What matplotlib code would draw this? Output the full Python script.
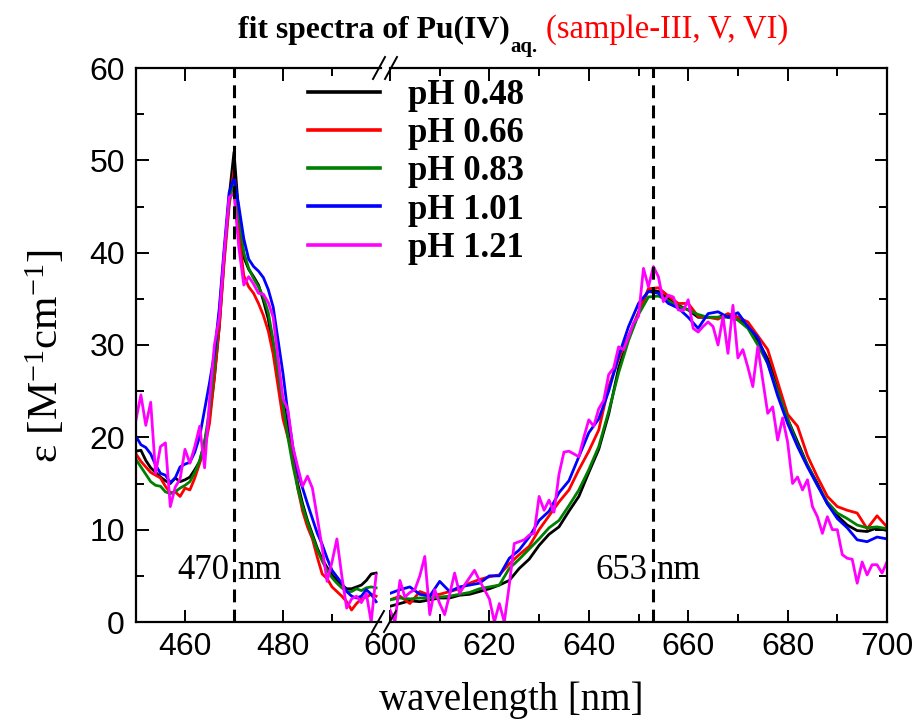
import matplotlib
matplotlib.use('Agg')
import matplotlib.pyplot as plt
from matplotlib.ticker import FixedLocator, MultipleLocator

plt.rcParams['font.family'] = ['Liberation Sans Narrow', 'Liberation Sans']
plt.rcParams['mathtext.fontset'] = 'custom'
plt.rcParams['mathtext.rm'] = 'Liberation Serif'
plt.rcParams['mathtext.it'] = 'Liberation Serif:italic'
plt.rcParams['mathtext.bf'] = 'Liberation Serif:bold'
SERIF = 'Liberation Serif'

# ---------------- data ----------------
wl_left = list(range(450, 500))          # 1 nm step
wl_right = list(range(600, 701, 2))      # 2 nm step
wl_right_fine = list(range(600, 701))    # 1 nm step

labels = ['pH 0.48', 'pH 0.66', 'pH 0.83', 'pH 1.01', 'pH 1.21']
colors = ['#000000', '#FF0000', '#008000', '#0000FF', '#FF00FF']

ph048_left = [18.5, 18.6, 17.5, 16.7, 16.2, 15.7, 15.3, 15.0, 15.6, 15.2,
              15.4, 15.7, 16.5, 17.4, 19.5, 22.2, 26.5, 32.0, 39.5, 46.0,
              50.9, 44.0, 39.5, 38.2, 37.4, 36.5, 34.8, 32.8, 29.5, 26.0,
              24.0, 21.0, 18.0, 15.0, 12.8, 11.0, 9.5, 8.0, 6.8, 5.9,
              5.1, 4.5, 4.0, 3.6, 3.6, 3.8, 4.0, 4.5, 5.2, 5.3]
ph066_left = [18.2, 17.4, 16.8, 16.2, 15.9, 15.6, 14.7, 14.0, 14.1, 13.6,
              14.5, 14.3, 15.6, 17.2, 18.8, 21.5, 26.5, 32.0, 39.0, 45.0,
              49.0, 42.0, 37.5, 36.3, 35.6, 34.5, 33.2, 31.5, 29.0, 25.5,
              22.0, 20.0, 18.3, 14.5, 12.0, 10.3, 9.0, 7.0, 5.2, 4.7,
              3.8, 3.3, 2.8, 2.2, 1.3, 2.0, 2.5, 2.7, 3.0, 2.8]
ph083_left = [17.6, 16.8, 16.0, 15.2, 14.8, 14.7, 14.1, 13.9, 14.1, 14.5,
              14.8, 15.2, 16.2, 17.5, 19.5, 23.0, 28.0, 33.5, 40.0, 45.5,
              47.8, 44.0, 40.0, 38.3, 37.2, 36.3, 35.2, 33.5, 30.5, 27.0,
              23.5, 20.0, 17.0, 14.5, 12.5, 10.8, 9.3, 7.8, 6.6, 5.6,
              4.8, 4.2, 3.7, 3.3, 3.3, 3.6, 3.4, 3.7, 3.8, 3.7]
ph101_left = [20.1, 19.2, 18.9, 18.2, 17.0, 16.1, 15.9, 15.1, 15.6, 16.8,
              17.1, 17.3, 18.4, 20.1, 23.0, 25.9, 29.1, 34.0, 40.5, 46.5,
              48.1, 45.0, 41.5, 39.3, 38.5, 38.0, 37.3, 36.0, 34.1, 30.5,
              26.9, 22.6, 19.0, 16.2, 14.5, 12.8, 11.2, 9.6, 8.4, 6.9,
              5.6, 4.9, 4.2, 3.3, 2.8, 2.6, 2.8, 3.5, 3.0, 2.2]
ph121_left = [21.9, 24.6, 21.3, 23.8, 16.1, 19.0, 19.4, 12.5, 14.6, 15.5,
              18.7, 17.2, 19.0, 21.2, 16.7, 24.0, 30.0, 33.0, 40.0, 46.0,
              46.4, 40.5, 36.5, 37.4, 36.6, 35.6, 35.5, 34.6, 33.0, 28.5,
              24.2, 23.0, 19.0, 16.8, 14.7, 15.8, 14.5, 11.3, 8.0, 4.4,
              6.5, 9.0, 5.0, 1.5, 2.5, 2.8, 2.1, 3.1, 0.0, 5.1]

ph048_right = [1.7, 2.0, 2.3, 2.2, 2.4, 2.6, 2.6, 2.9, 3.0, 3.3,
               3.6, 4.0, 4.5, 5.8, 6.8, 8.3, 9.5, 10.3, 12.0, 13.6,
               16.2, 18.7, 22.5, 27.5, 30.8, 33.5, 36.0, 35.8, 35.0, 34.3,
               33.8, 33.0, 33.0, 33.0, 33.3, 33.0, 32.0, 30.5, 28.5, 25.5,
               22.0, 19.5, 17.0, 15.0, 12.8, 11.5, 10.5, 9.9, 9.8, 10.2,
               9.9]
ph066_right = [2.4, 2.8, 2.0, 3.3, 2.9, 3.0, 3.3, 3.6, 4.2, 4.6,
               4.9, 5.1, 6.3, 7.3, 8.2, 10.0, 11.5, 13.0, 14.3, 16.5,
               18.5, 20.8, 25.5, 28.5, 31.0, 33.5, 36.1, 36.2, 35.3, 34.5,
               34.5, 33.1, 33.0, 32.8, 33.4, 33.0, 32.5, 31.0, 29.5, 26.0,
               22.5, 21.2, 18.0, 15.7, 13.6, 12.5, 12.1, 11.8, 10.1, 11.5,
               10.3]
ph083_right = [2.4, 2.6, 2.5, 2.6, 2.6, 2.7, 2.8, 3.0, 3.2, 3.6,
               3.8, 4.0, 5.8, 6.8, 7.9, 9.0, 10.2, 11.0, 12.6, 14.3,
               16.5, 19.0, 22.8, 27.0, 30.5, 33.3, 35.2, 35.3, 34.8, 34.2,
               33.8, 33.3, 33.0, 33.0, 33.0, 32.7, 31.8, 30.0, 28.0, 25.0,
               22.0, 19.2, 17.0, 14.8, 13.0, 11.8, 11.2, 10.5, 10.2, 10.3,
               10.1]
ph101_right = [3.1, 3.5, 3.8, 3.0, 2.8, 4.4, 3.3, 3.8, 4.0, 4.2,
               5.0, 5.0, 6.9, 7.8, 9.2, 11.0, 12.0, 14.0, 15.3, 17.9,
               20.5, 22.0, 25.0, 28.8, 32.0, 34.5, 35.8, 35.6, 34.5, 34.0,
               33.0, 31.8, 33.4, 33.6, 33.0, 33.5, 32.0, 30.8, 28.0, 24.5,
               21.5, 19.0, 16.8, 14.8, 12.8, 11.2, 10.2, 8.9, 8.7, 9.2,
               9.0]
ph121_right = [1.3, 0.0, 4.5, 2.7, 3.2, 3.5, 5.0, 7.1, 0.8, 3.5,
               2.0, 0.8, 3.0, 5.3, 3.1, 4.0, 4.8, 5.6, 4.5, 3.5,
               2.5, 0.0, 2.0, 0.0, 4.0, 8.5, 8.7, 8.9, 9.4, 9.6,
               13.6, 12.1, 13.2, 11.9, 16.0, 18.4, 18.5, 18.2, 17.9, 20.0,
               21.9, 21.2, 23.1, 24.0, 26.8, 27.5, 29.8, 29.5, 30.9, 32.4,
               33.1, 38.3, 36.3, 38.5, 37.4, 34.7, 35.4, 35.2, 33.8, 33.7,
               34.9, 31.8, 31.4, 32.0, 32.5, 32.0, 30.0, 33.1, 29.1, 34.3,
               28.6, 29.5, 27.6, 25.5, 29.8, 26.2, 22.6, 23.3, 19.7, 22.1,
               19.5, 15.0, 15.7, 14.3, 15.4, 12.5, 11.4, 9.6, 11.4, 10.0,
               10.0, 7.3, 6.9, 6.8, 4.2, 6.5, 5.1, 6.2, 6.2, 5.3,
               6.5]

left_sets = [ph048_left, ph066_left, ph083_left, ph101_left, ph121_left]
right_sets = [(wl_right, ph048_right), (wl_right, ph066_right),
              (wl_right, ph083_right), (wl_right, ph101_right),
              (wl_right_fine, ph121_right)]

peak_lines = [470, 653]

# ---------------- figure ----------------
W, H = 914, 722
fig = plt.figure(figsize=(W / 100, H / 100), dpi=100)
bottom = 1 - 622 / H
height = (622 - 68) / H
ax1 = fig.add_axes([136 / W, bottom, 245 / W, height])
ax2 = fig.add_axes([390 / W, bottom, 497 / W, height])

handles = []
for vals, (wr, vr), c, lab in zip(left_sets, right_sets, colors, labels):
    h, = ax1.plot(wl_left, vals, color=c, lw=2.0, label=lab)
    ax2.plot(wr, vr, color=c, lw=2.0)
    handles.append(h)

ax1.axvline(peak_lines[0], color='black', lw=2.2, dashes=(4.2, 2.4))
ax2.axvline(peak_lines[1], color='black', lw=2.2, dashes=(4.2, 2.4))

ax1.set_xlim(450, 500)
ax2.set_xlim(600, 700)
for ax in (ax1, ax2):
    ax.set_ylim(0, 60)
    ax.yaxis.set_major_locator(MultipleLocator(10))
    ax.yaxis.set_minor_locator(MultipleLocator(5))
    for s in ax.spines.values():
        s.set_linewidth(1.6)
    ax.tick_params(which='both', direction='in', top=True, width=1.4,
                   labelsize=23)
    ax.tick_params(which='major', length=9)
    ax.tick_params(which='minor', length=5.5)
    ax.tick_params(axis='x', pad=7)
    ax.tick_params(axis='y', pad=8)

ax1.xaxis.set_major_locator(FixedLocator([460, 480]))
ax1.xaxis.set_minor_locator(FixedLocator([470, 490]))
ax2.xaxis.set_major_locator(MultipleLocator(20))
ax2.xaxis.set_minor_locator(MultipleLocator(10))

ax1.spines['right'].set_visible(False)
ax2.spines['left'].set_visible(False)
ax1.tick_params(which='both', right=False)
ax2.tick_params(which='both', left=False, labelleft=False, right=True)

# peak labels
ax1.text(469.0, 4.7, '470', ha='right', va='baseline', family=SERIF, fontsize=25)
ax1.text(470.6, 4.7, 'nm', ha='left', va='baseline', family=SERIF, fontsize=25)
ax2.text(651.9, 4.7, '653', ha='right', va='baseline', family=SERIF, fontsize=25)
ax2.text(653.6, 4.7, 'nm', ha='left', va='baseline', family=SERIF, fontsize=25)

# break marks
def slash(x0, y0, x1, y1):
    fig.add_artist(plt.Line2D([x0 / W, x1 / W], [1 - y0 / H, 1 - y1 / H],
                              color='black', lw=1.4))
for dx in (0, 12):
    slash(372 + dx, 632, 384 + dx, 611)
    slash(373 + dx, 79, 385 + dx, 57)

# axis labels
fig.text(511 / W, 1 - 700 / H, 'wavelength [nm]', ha='center', va='center',
         family=SERIF, fontsize=28)
fig.text(46 / W, 1 - 356 / H, 'ε [M$^{-1}$cm$^{-1}$]', ha='center', va='center',
         rotation=90, family=SERIF, fontsize=31)

# legend
fig.legend(handles, labels, loc='upper left', bbox_to_anchor=(308 / W, 1 - 79 / H),
           frameon=False, prop=dict(family=SERIF, weight='bold', size=25),
           handlelength=2.08, handletextpad=0.8, labelspacing=0.15,
           borderpad=0, borderaxespad=0)
for lh in fig.legends[0].get_lines():
    lh.set_linewidth(2.6)

# title pieces
fig.canvas.draw()
r = fig.canvas.get_renderer()
ybase = 1 - 38 / H
t1 = fig.text(238 / W, ybase, 'fit spectra of Pu(IV)', ha='left', va='baseline',
              family=SERIF, weight='bold', fontsize=22.8)
bb = t1.get_window_extent(r)
t2 = fig.text(bb.x1 / W + 1 / W, 1 - 52 / H, 'aq.', ha='left', va='baseline',
              family=SERIF, weight='bold', fontsize=15)
bb2 = t2.get_window_extent(r)
fig.text(bb2.x1 / W + 8 / W, ybase, '(sample-III, V, VI)', ha='left', va='baseline',
         family=SERIF, color='#FF0000', fontsize=23.5)

fig.savefig('out.png', dpi=100)
